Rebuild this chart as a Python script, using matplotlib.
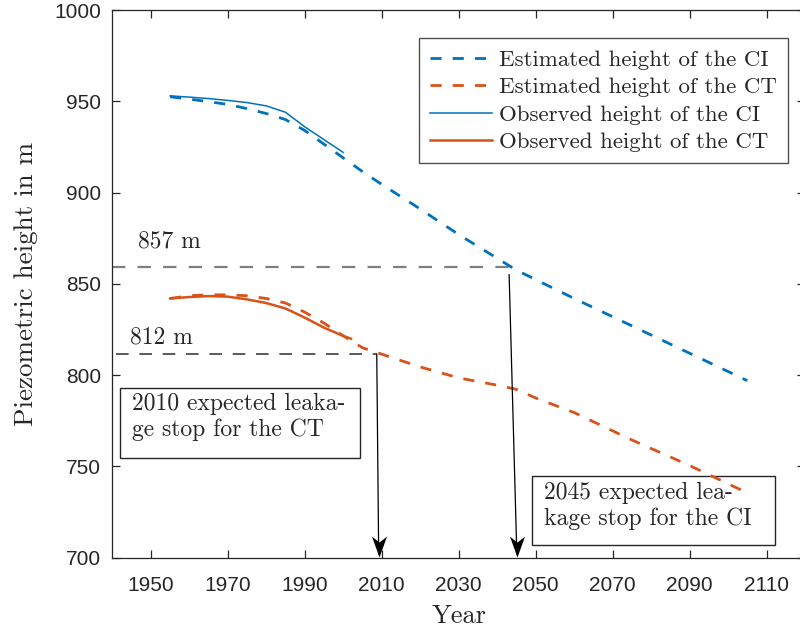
import matplotlib
matplotlib.use("Agg")
import matplotlib.pyplot as plt
from matplotlib.patches import Rectangle
from matplotlib.path import Path

# ---- data ----
est_ci_years = [1955, 1960, 1965, 1970, 1975, 1980, 1985, 1990, 1995, 2000, 2005, 2010,
                2020, 2030, 2045, 2060, 2075, 2090, 2105]
est_ci_vals = [952.5, 951.2, 949.8, 948.3, 946.0, 943.3, 940.0, 934.0, 926.5, 919.0, 911.5,
               904.5, 891.0, 877.0, 857.5, 842.0, 827.0, 812.0, 797.0]

est_ct_years = [1955, 1960, 1965, 1970, 1975, 1980, 1985, 1990, 1995, 2000, 2005, 2010,
                2020, 2030, 2040, 2045, 2050, 2060, 2075, 2090, 2105]
est_ct_vals = [842.0, 843.5, 844.0, 844.0, 843.5, 842.0, 839.5, 834.5, 828.5, 821.5, 815.0,
               811.5, 804.5, 798.5, 794.5, 792.2, 787.5, 779.5, 764.5, 750.5, 735.5]

obs_ci_years = [1955, 1960, 1965, 1970, 1975, 1980, 1985, 1990, 1995, 2000]
obs_ci_vals = [953.0, 952.3, 951.5, 950.5, 949.3, 947.5, 944.0, 936.0, 929.0, 922.0]

obs_ct_years = [1955, 1960, 1965, 1970, 1975, 1980, 1985, 1990, 1995, 2000, 2002]
obs_ct_vals = [842.0, 842.8, 843.3, 843.0, 841.5, 839.5, 836.5, 831.5, 826.0, 821.5, 820.0]

ref_ci_level = 859.0   # drawn "857 m" reference line
ref_ct_level = 811.4   # drawn "812 m" reference line
ref_ci_year = 2043.3
ref_ct_year = 2008.7
stop_ci_year = 2045.1
stop_ct_year = 2009.2

x_ticks = [1950, 1970, 1990, 2010, 2030, 2050, 2070, 2090, 2110]
y_ticks = [700, 750, 800, 850, 900, 950, 1000]

BLUE = "#0072BD"
ORANGE = "#D95319"
SERIF = "cmr10"
TXT = "#262626"

fig = plt.figure(figsize=(8, 6.35), dpi=100)
ax = fig.add_axes([0.1405, 0.1217, 0.8658, 0.8625])

ax.plot(est_ci_years, est_ci_vals, color=BLUE, lw=2.0, ls=(0, (4, 4)),
        label="Estimated height of the CI", zorder=4)
ax.plot(est_ct_years, est_ct_vals, color=ORANGE, lw=2.0, ls=(0, (4, 4)),
        label="Estimated height of the CT", zorder=4)
ax.plot(obs_ci_years, obs_ci_vals, color=BLUE, lw=1.1, label="Observed height of the CI",
        zorder=4)
ax.plot(obs_ct_years, obs_ct_vals, color=ORANGE, lw=1.8, label="Observed height of the CT",
        zorder=4)

# reference lines
ax.plot([1940, ref_ci_year], [ref_ci_level, ref_ci_level], color="#7f7f7f", lw=1.6,
        ls=(0, (6, 5.5)), zorder=1)
ax.plot([1941, ref_ct_year], [ref_ct_level, ref_ct_level], color="#5a5a5a", lw=1.4,
        ls=(0, (6.5, 5.5)), zorder=1)

ax.text(1946.7, 873.5, "857 m", family=SERIF, fontsize=17, color=TXT, va="center")
ax.text(1944.6, 820.5, "812 m", family=SERIF, fontsize=17, color=TXT, va="center")

# arrows (MATLAB-style notched heads)
head = Path([(0, 0), (-0.36, 1.0), (0, 0.72), (0.36, 1.0), (0, 0)],
            [Path.MOVETO, Path.LINETO, Path.LINETO, Path.LINETO, Path.CLOSEPOLY])
for (x0, y0, x1) in [(ref_ct_year, ref_ct_level, stop_ct_year),
                     (2043.1, 855.0, stop_ci_year)]:
    ax.plot([x0, x1], [y0, 702], color="black", lw=0.9, zorder=5)
    ax.plot([x1], [700.5], marker=head, markersize=30, color="black",
            markeredgewidth=0, zorder=6, clip_on=False)

# text boxes (drawn under the curves, as in the original)
ax.add_patch(Rectangle((1942.0, 754.6), 62.4, 38.4, fill=True, fc="white", ec=TXT,
                       lw=1.0, zorder=2))
ax.text(1945.0, 777.0, "2010 expected leaka-\nge stop for the CT", family=SERIF,
        fontsize=17, color=TXT, va="center", ha="left", linespacing=1.18, zorder=3)
ax.add_patch(Rectangle((2049.1, 706.9), 63.1, 37.9, fill=True, fc="white", ec=TXT,
                       lw=1.0, zorder=2))
ax.text(2052.1, 728.5, "2045 expected lea-\nkage stop for the CI", family=SERIF,
        fontsize=17, color=TXT, va="center", ha="left", linespacing=1.18, zorder=3)

ax.set_xlim(1940, 2120)
ax.set_ylim(700, 1000)
ax.set_xticks(x_ticks)
ax.set_yticks(y_ticks)
ax.tick_params(direction="in", length=6, width=0.9, top=True, right=True,
               labelsize=15, colors=TXT)
ax.tick_params(axis="x", pad=13)
ax.tick_params(axis="y", pad=8)
for lbl in ax.get_xticklabels() + ax.get_yticklabels():
    lbl.set_family("Liberation Sans")
for s in ax.spines.values():
    s.set_color(TXT)
    s.set_linewidth(0.9)
    s.set_zorder(7)

ax.set_xlabel("Year", family=SERIF, fontsize=19, color=TXT, labelpad=7)
ax.set_ylabel("Piezometric height in m", family=SERIF, fontsize=19.5, color=TXT,
              labelpad=12)

leg = ax.legend(loc="upper right", bbox_to_anchor=(0.9854, 0.9397),
                bbox_transform=fig.transFigure, prop=dict(family=SERIF, size=16.5),
                frameon=True, fancybox=False, edgecolor=TXT, handlelength=2.7,
                handletextpad=0.3, borderpad=0.5, labelspacing=0.32, borderaxespad=0)
leg.get_frame().set_linewidth(1.0)
leg.set_zorder(8)
for t in leg.get_texts():
    t.set_color(TXT)

fig.savefig("out.png", dpi=100)
